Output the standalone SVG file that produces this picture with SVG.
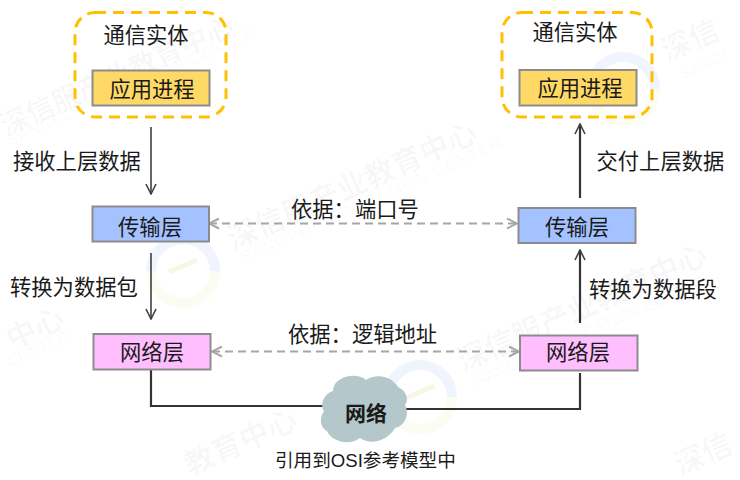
<svg xmlns="http://www.w3.org/2000/svg" width="740" height="480" viewBox="0 0 740 480">
<style>
text{font-family:"Liberation Sans","Noto Sans CJK SC",sans-serif;fill:#1a1a1a;font-size:21.3px}
.c{text-anchor:middle}
.box{stroke:#8c8c8c;stroke-width:2}
.ent{fill:none;stroke:#ffc000;stroke-width:3;stroke-dasharray:11 7}
.wm{font-size:30px;fill:#000;fill-opacity:.03;font-weight:700}
.wm2{font-size:16px;fill:#000;fill-opacity:.03}
.ln{fill:none;stroke:#404040;stroke-width:1.6}
.ln2{fill:none;stroke:#333;stroke-width:2.2}
.da{fill:none;stroke:#a6a6a6;stroke-width:2;stroke-dasharray:8 5}
.rb{fill:none;stroke:#f0f4fc;stroke-width:10}
.ry{fill:none;stroke:#fbfcf2;stroke-width:10}
</style>
<defs>
<marker id="a" viewBox="0 0 12 12" refX="11" refY="6" markerWidth="12" markerHeight="12" markerUnits="userSpaceOnUse" orient="auto-start-reverse"><path d="M1 1L11 6L1 11" fill="none" stroke="#404040" stroke-width="1.6"/></marker>
<marker id="g" viewBox="0 0 12 12" refX="11" refY="6" markerWidth="12" markerHeight="12" markerUnits="userSpaceOnUse" orient="auto-start-reverse"><path d="M1 1L11 6L1 11" fill="none" stroke="#a6a6a6" stroke-width="2"/></marker>
<g id="logo"><path class="rb" d="M-32 5A32 32 0 0 1 32 5"/><path class="ry" d="M32 5A32 32 0 0 1-32 5"/><path d="M-14 6L14-6" stroke="#f8f6e6" stroke-width="5"/></g>
</defs>
<rect width="740" height="480" fill="#fff"/>
<g id="watermarks">
<use href="#logo" x="183" y="266"/>
<use href="#logo" x="420" y="392"/>
<use href="#logo" x="623" y="84"/>
<text class="wm" style="font-size:28px" transform="translate(6 136) rotate(-24)">深信服产业教育中心</text>
<text class="wm2" textLength="270" transform="translate(10 146) rotate(-24)">SANGFOR EDUCATION CENTER</text>
<text class="wm" transform="translate(233 250) rotate(-24)">深信服产业教育中心</text>
<text class="wm2" textLength="285" transform="translate(243 263) rotate(-24)">SANGFOR EDUCATION CENTER</text>
<text class="wm" transform="translate(463 372) rotate(-24)">深信服产业教育中心</text>
<text class="wm2" textLength="250" transform="translate(478 387) rotate(-24)">SANGFOR EDUCATION CENTER</text>
<text class="wm" transform="translate(667 62) rotate(-24)">深信</text>
<text class="wm2" transform="translate(683 80) rotate(-24)">SANGF</text>
<text class="wm" transform="translate(12 350) rotate(-24)">中心</text>
<text class="wm2" transform="translate(10 367) rotate(-24)">CENTER</text>
<text class="wm" transform="translate(190 476) rotate(-24)">教育中心</text>
<text class="wm" transform="translate(680 476) rotate(-24)">深信</text>
</g>
<g id="connectors">
<path class="ln" d="M151 127V194" marker-end="url(#a)"/>
<path class="ln" d="M151 253V319" marker-end="url(#a)"/>
<path class="ln2" d="M580 198V124" marker-end="url(#a)"/>
<path class="ln2" d="M580 323V250" marker-end="url(#a)"/>
<path class="da" d="M209 223.500H517" marker-start="url(#g)" marker-end="url(#g)"/>
<path class="da" d="M212 351.500H519" marker-start="url(#g)" marker-end="url(#g)"/>
<path class="ln2" d="M151 370V406H324"/>
<path class="ln2" d="M405 409H580V373"/>
</g>
<g id="entity-left"><rect class="ent" x="75" y="12.500" width="151" height="104.500" rx="20"/><text class="c" x="146" y="43">通信实体</text></g>
<g id="entity-right"><rect class="ent" x="502" y="12.500" width="150" height="104.500" rx="20"/><text class="c" x="575" y="40">通信实体</text></g>
<g id="app-left"><rect class="box" x="92.500" y="70.500" width="117" height="35" fill="#ffd966"/><text class="c" x="152" y="97">应用进程</text></g>
<g id="app-right"><rect class="box" x="519.500" y="70" width="117" height="35.500" fill="#ffd966"/><text class="c" x="580" y="96">应用进程</text></g>
<g id="trans-left"><rect class="box" x="92.500" y="206.500" width="116.500" height="35" fill="#a4c2ff"/><text class="c" x="150" y="235">传输层</text></g>
<g id="trans-right"><rect class="box" x="518.500" y="208" width="117" height="35" fill="#a4c2ff"/><text class="c" x="577" y="235">传输层</text></g>
<g id="net-left"><rect class="box" x="93.500" y="334" width="117" height="35.500" fill="#ffbfff"/><text class="c" x="152" y="360">网络层</text></g>
<g id="net-right"><rect class="box" x="520" y="335.500" width="117.500" height="35" fill="#ffbfff"/><text class="c" x="578" y="360">网络层</text></g>
<g id="cloud"><path d="M335 384C342 375 358 373 366 380C376 373 392 376 398 387C407 391 409 400 405 405C410 414 405 426 395 428C388 440 372 446 360 438C350 446 332 442 327 431C320 428 319 418 324 411C319 404 325 393 333 391C333 388 334 386 335 384Z" fill="#b4c7cb"/><text class="c" x="366" y="421" style="font-weight:700;font-size:21px">网络</text></g>
<g id="labels">
<text x="13" y="169">接收上层数据</text>
<text x="10" y="295">转换为数据包</text>
<text x="596.500" y="168.500">交付上层数据</text>
<text x="589" y="296.500">转换为数据段</text>
<text x="291" y="217">依据：端口号</text>
<text x="288" y="342">依据：逻辑地址</text>
<text x="275" y="467" style="font-size:18.600px">引用到OSI参考模型中</text>
</g>
</svg>
